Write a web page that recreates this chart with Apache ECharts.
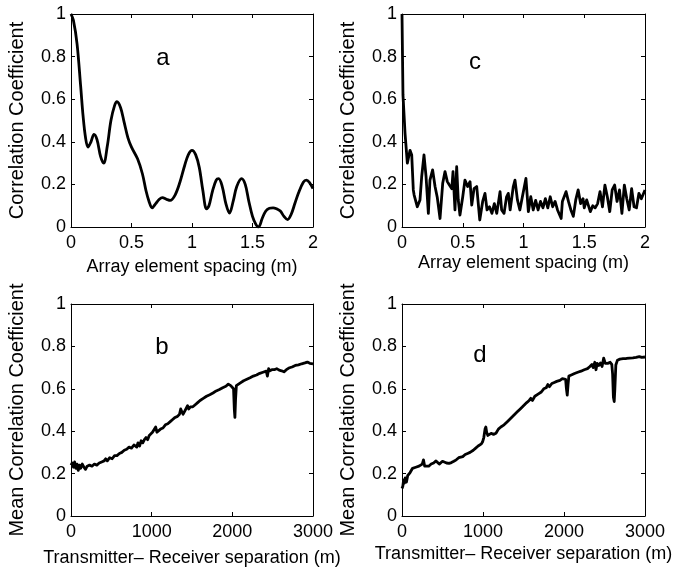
<!DOCTYPE html>
<html>
<head>
<meta charset="utf-8">
<script src="https://cdn.jsdelivr.net/npm/echarts@6/dist/echarts.min.js"></script>
<style>
html,body{margin:0;padding:0;background:#fff;}
#chart{width:687px;height:573px;}
</style>
</head>
<body>
<div id="chart"></div>
<script>
// ---------- Data ----------
// Panel a: correlation coefficient vs array element spacing (m)
const aX = [0,0.02,0.05,0.08,0.10,0.12,0.14,0.165,0.19,0.215,0.245,0.27,0.30,0.33,0.36,0.38,0.41,0.44,0.47,0.50,0.55,0.59,0.62,0.645,0.67,0.70,0.73,0.755,0.79,0.82,0.86,0.90,0.94,0.97,1.0,1.03,1.06,1.09,1.12,1.14,1.17,1.20,1.22,1.25,1.28,1.31,1.34,1.37,1.41,1.44,1.47,1.50,1.53,1.55,1.58,1.61,1.64,1.67,1.70,1.73,1.76,1.79,1.82,1.85,1.88,1.92,1.945,1.97,2.0];
const aY = [1.0,0.97,0.86,0.66,0.52,0.42,0.375,0.40,0.435,0.41,0.33,0.30,0.38,0.50,0.57,0.588,0.56,0.49,0.42,0.375,0.32,0.25,0.17,0.12,0.09,0.11,0.13,0.138,0.13,0.125,0.15,0.21,0.29,0.34,0.36,0.34,0.28,0.17,0.085,0.10,0.17,0.22,0.227,0.19,0.11,0.065,0.12,0.19,0.227,0.20,0.12,0.05,0.01,0.0,0.04,0.075,0.088,0.09,0.085,0.075,0.05,0.035,0.06,0.11,0.16,0.21,0.22,0.21,0.18];

// Panel c: correlation coefficient vs array element spacing (m)
const cX = [0,0.008,0.025,0.044,0.066,0.08,0.093,0.10,0.126,0.148,0.162,0.181,0.198,0.217,0.23,0.252,0.272,0.29,0.313,0.335,0.354,0.373,0.39,0.41,0.42,0.436,0.45,0.463,0.477,0.50,0.518,0.54,0.56,0.574,0.593,0.615,0.64,0.664,0.683,0.70,0.72,0.74,0.76,0.78,0.807,0.82,0.84,0.86,0.875,0.89,0.916,0.93,0.95,0.97,0.99,1.02,1.04,1.06,1.08,1.10,1.12,1.14,1.16,1.18,1.20,1.22,1.24,1.26,1.28,1.31,1.32,1.35,1.37,1.39,1.41,1.43,1.45,1.47,1.49,1.50,1.52,1.55,1.57,1.59,1.61,1.63,1.65,1.67,1.69,1.71,1.73,1.75,1.77,1.79,1.81,1.83,1.85,1.87,1.89,1.91,1.93,1.95,1.97,2.0];
const cY = [1.0,0.62,0.44,0.30,0.36,0.338,0.174,0.15,0.095,0.127,0.236,0.338,0.236,0.064,0.22,0.268,0.19,0.14,0.04,0.205,0.26,0.213,0.197,0.18,0.26,0.08,0.283,0.127,0.056,0.142,0.22,0.19,0.213,0.103,0.18,0.19,0.033,0.12,0.158,0.08,0.095,0.064,0.11,0.064,0.166,0.08,0.064,0.14,0.158,0.08,0.19,0.22,0.127,0.08,0.14,0.228,0.072,0.142,0.08,0.125,0.08,0.12,0.09,0.133,0.09,0.142,0.095,0.12,0.08,0.04,0.12,0.166,0.12,0.08,0.05,0.127,0.174,0.11,0.133,0.09,0.127,0.072,0.1,0.09,0.11,0.166,0.095,0.197,0.142,0.072,0.174,0.197,0.12,0.174,0.064,0.197,0.133,0.08,0.18,0.095,0.09,0.158,0.133,0.174];

// Panel b: mean correlation coefficient vs transmitter-receiver separation (m)
const bX = [0,15,30,45,60,75,90,105,120,140,160,180,200,230,260,290,320,350,380,410,430,450,480,510,540,570,600,630,660,690,720,750,780,800,815,830,850,870,890,910,930,950,970,990,1010,1030,1050,1065,1080,1110,1140,1170,1200,1230,1260,1290,1320,1345,1360,1375,1390,1410,1430,1445,1460,1480,1510,1540,1570,1600,1640,1680,1720,1760,1800,1840,1880,1920,1950,1980,2000,2015,2025,2032,2040,2050,2070,2100,2140,2180,2220,2260,2300,2340,2380,2420,2435,2450,2465,2490,2520,2550,2580,2610,2640,2670,2700,2740,2780,2820,2860,2900,2930,2960,3000];
const bY = [0.24,0.25,0.23,0.255,0.225,0.245,0.215,0.24,0.225,0.245,0.23,0.22,0.235,0.24,0.235,0.245,0.24,0.25,0.255,0.26,0.27,0.26,0.275,0.27,0.285,0.285,0.295,0.3,0.31,0.315,0.325,0.32,0.335,0.34,0.325,0.345,0.33,0.355,0.345,0.36,0.37,0.36,0.38,0.385,0.395,0.4,0.42,0.395,0.4,0.41,0.415,0.43,0.435,0.445,0.455,0.465,0.47,0.48,0.505,0.49,0.48,0.495,0.5,0.52,0.505,0.515,0.515,0.525,0.535,0.545,0.555,0.565,0.572,0.58,0.59,0.597,0.605,0.612,0.622,0.615,0.622,0.6,0.5,0.465,0.55,0.615,0.62,0.628,0.638,0.645,0.652,0.66,0.665,0.673,0.678,0.683,0.66,0.695,0.685,0.69,0.69,0.695,0.688,0.685,0.68,0.69,0.698,0.703,0.71,0.713,0.718,0.722,0.726,0.72,0.718];

// Panel d: mean correlation coefficient vs transmitter-receiver separation (m)
const dX = [0,10,20,30,40,55,70,85,100,115,130,150,170,190,210,230,250,265,280,300,330,360,390,420,440,460,480,500,520,550,580,610,640,670,700,720,750,780,810,840,860,880,910,940,960,980,995,1010,1025,1035,1045,1060,1080,1100,1130,1160,1190,1220,1260,1300,1340,1380,1420,1460,1500,1540,1570,1590,1610,1640,1680,1720,1750,1780,1800,1820,1850,1880,1910,1950,1980,2000,2020,2030,2040,2050,2060,2090,2130,2170,2210,2250,2290,2320,2345,2360,2380,2395,2410,2430,2450,2470,2490,2510,2540,2570,2590,2600,2610,2620,2628,2640,2660,2690,2730,2770,2810,2850,2890,2930,2960,3000];
const dY = [0.13,0.14,0.17,0.155,0.18,0.16,0.19,0.185,0.205,0.2,0.225,0.22,0.23,0.225,0.235,0.23,0.245,0.265,0.235,0.24,0.235,0.245,0.25,0.26,0.268,0.245,0.25,0.258,0.255,0.25,0.248,0.252,0.258,0.265,0.275,0.27,0.28,0.29,0.295,0.3,0.297,0.31,0.32,0.33,0.322,0.34,0.35,0.37,0.41,0.42,0.395,0.38,0.385,0.39,0.385,0.39,0.41,0.42,0.43,0.445,0.46,0.475,0.49,0.505,0.52,0.535,0.545,0.555,0.545,0.565,0.575,0.585,0.6,0.605,0.62,0.61,0.625,0.63,0.635,0.64,0.648,0.655,0.645,0.6,0.57,0.62,0.66,0.665,0.672,0.678,0.683,0.69,0.695,0.705,0.715,0.7,0.725,0.69,0.72,0.71,0.722,0.705,0.745,0.72,0.72,0.725,0.715,0.67,0.56,0.54,0.6,0.712,0.735,0.74,0.742,0.743,0.745,0.746,0.748,0.752,0.748,0.75];

// Axis ticks / labels
const spacingTicks = {min: 0, max: 2, interval: 0.5};
const separationTicks = {min: 0, max: 3000, interval: 1000};
const corrTicks = {min: 0, max: 1, interval: 0.2};
const xTitleSpacing = 'Array element spacing (m)';
const xTitleSeparation = 'Transmitter\u2013 Receiver separation (m)';
const yTitleCorr = 'Correlation Coefficient';
const yTitleMean = 'Mean Correlation Coefficient';
const panelLetters = ['a', 'c', 'b', 'd'];

// ---------- Chart ----------
const FONT = '"Liberation Sans", Arial, Helvetica, sans-serif';
const panels = [
  {grid: {left: 71, top: 14, width: 242, height: 213}, xs: spacingTicks, xt: xTitleSpacing, xGap: 31, yt: yTitleCorr, X: aX, Y: aY, smooth: 0.35, letter: [163, 58]},
  {grid: {left: 402, top: 14, width: 243, height: 213}, xs: spacingTicks, xt: xTitleSpacing, xGap: 27, yt: yTitleCorr, X: cX, Y: cY, smooth: false, letter: [475, 62]},
  {grid: {left: 71, top: 304, width: 242, height: 212}, xs: separationTicks, xt: xTitleSeparation, xGap: 33, yt: yTitleMean, X: bX, Y: bY, smooth: false, letter: [162, 347]},
  {grid: {left: 402, top: 304, width: 243, height: 212}, xs: separationTicks, xt: xTitleSeparation, xGap: 29, yt: yTitleMean, X: dX, Y: dY, smooth: false, letter: [480, 355]}
];

const grids = [], xAxes = [], yAxes = [], series = [], graphics = [];
const lineStyleAxis = {color: '#000', width: 1};
const fmt = v => String(Math.round(v * 1000) / 1000);

panels.forEach((p, i) => {
  grids.push(Object.assign({containLabel: false}, p.grid));
  xAxes.push({
    type: 'value', gridIndex: i, position: 'bottom', min: p.xs.min, max: p.xs.max, interval: p.xs.interval,
    name: p.xt, nameLocation: 'middle', nameGap: p.xGap,
    nameTextStyle: {color: '#000', fontSize: 18, fontFamily: FONT},
    axisLine: {show: true, onZero: false, lineStyle: lineStyleAxis},
    axisTick: {show: true, inside: true, length: 4, lineStyle: lineStyleAxis},
    axisLabel: {show: true, color: '#000', fontSize: 18, fontFamily: FONT, margin: 7, formatter: fmt, showMinLabel: true, showMaxLabel: true, hideOverlap: false},
    splitLine: {show: false}
  });
  xAxes.push({
    type: 'value', gridIndex: i, position: 'top', min: p.xs.min, max: p.xs.max, interval: p.xs.interval,
    axisLine: {show: true, onZero: false, lineStyle: lineStyleAxis},
    axisTick: {show: true, inside: true, length: 4, lineStyle: lineStyleAxis},
    axisLabel: {show: false}, splitLine: {show: false}
  });
  yAxes.push({
    type: 'value', gridIndex: i, position: 'left', min: corrTicks.min, max: corrTicks.max, interval: corrTicks.interval,
    name: p.yt, nameLocation: 'middle', nameGap: 44, nameRotate: 90,
    nameTextStyle: {color: '#000', fontSize: 20, fontFamily: FONT},
    axisLine: {show: true, onZero: false, lineStyle: lineStyleAxis},
    axisTick: {show: true, inside: true, length: 4, lineStyle: lineStyleAxis},
    axisLabel: {show: true, color: '#000', fontSize: 18, fontFamily: FONT, margin: 5, formatter: fmt, showMinLabel: true, showMaxLabel: true, hideOverlap: false},
    splitLine: {show: false}
  });
  yAxes.push({
    type: 'value', gridIndex: i, position: 'right', min: corrTicks.min, max: corrTicks.max, interval: corrTicks.interval,
    axisLine: {show: true, onZero: false, lineStyle: lineStyleAxis},
    axisTick: {show: true, inside: true, length: 4, lineStyle: lineStyleAxis},
    axisLabel: {show: false}, splitLine: {show: false}
  });
  series.push({
    type: 'line', xAxisIndex: i * 2, yAxisIndex: i * 2,
    data: p.X.map((x, k) => [x, p.Y[k]]),
    showSymbol: false, symbol: 'none', smooth: p.smooth, clip: true,
    lineStyle: {color: '#000', width: 2.8, join: 'round'},
    animation: false
  });
  graphics.push({
    type: 'text', x: p.letter[0], y: p.letter[1],
    style: {text: panelLetters[i], fill: '#000', font: '24px ' + FONT, textAlign: 'center', textVerticalAlign: 'middle'}
  });
});

const chart = echarts.init(document.getElementById('chart'), null, {renderer: 'canvas'});
chart.setOption({
  backgroundColor: '#fff',
  animation: false,
  grid: grids,
  xAxis: xAxes,
  yAxis: yAxes,
  series: series,
  graphic: graphics
});
</script>
</body>
</html>
